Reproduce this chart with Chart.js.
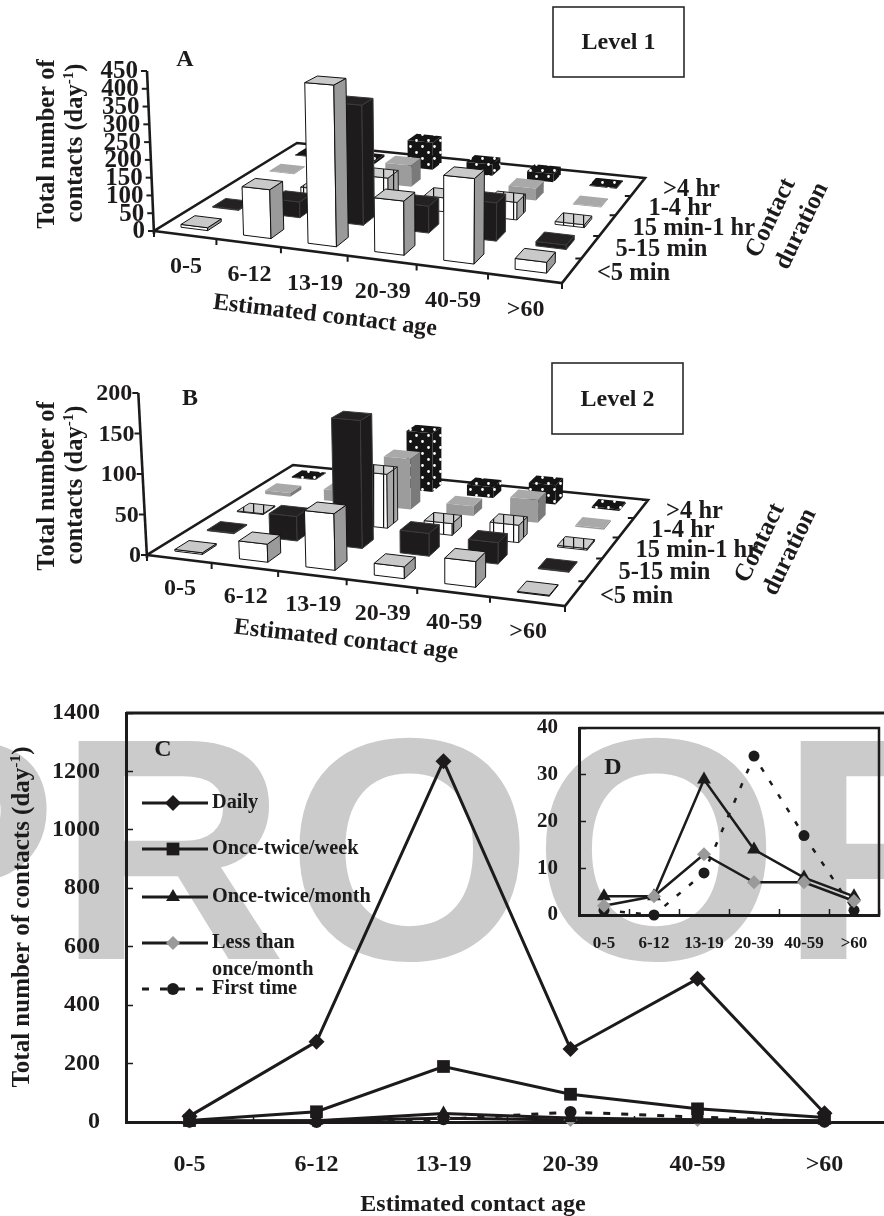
<!DOCTYPE html>
<html>
<head>
<meta charset="utf-8">
<title>Contacts</title>
<script src="https://cdn.jsdelivr.net/npm/chart.js@4"></script>
<style>
body{margin:0;background:#fff;}
#page{position:relative;width:884px;height:1216px;overflow:hidden;background:#fff;}
#page canvas{position:absolute;}
#proof{position:absolute;left:-154px;top:691px;font:bold 317px/1 "Liberation Sans";color:#cbcbcb;white-space:nowrap;}
</style>
</head>
<body>
<div id="page">
	<div id="proof">PROOF</div>
	<canvas id="canvasA" width="884" height="345" style="left:0px;top:0px"></canvas>
	<canvas id="canvasB" width="884" height="310" style="left:0px;top:355px"></canvas>
	<canvas id="canvasC" width="900" height="526" style="left:0px;top:690px"></canvas>
	<canvas id="canvasD" width="364" height="245" style="left:520px;top:715px"></canvas>
</div>
<script>
var ageLabels = ["0-5", "6-12", "13-19", "20-39", "40-59", ">60"];
var durationLabels = ["<5 min", "5-15 min", "15 min-1 hr", "1-4 hr", ">4 hr"];

// level 1, one array per contact duration
var levelOneUnder5 = [8, 135, 440, 145, 225, 28];
var levelOne5to15 = [2, 45, 340, 75, 105, 12];
var levelOne15to60 = [2, 25, 80, 40, 50, 8];
var levelOne1to4 = [2, 5, 65, 25, 35, 2];
var levelOneOver4 = [2, 8, 85, 35, 25, 2];

// level 2
var levelTwoUnder5 = [2, 22, 68, 14, 30, 1];
var levelTwo5to15 = [1, 31, 160, 28, 26, 1];
var levelTwo15to60 = [1, 4, 70, 15, 22, 2];
var levelTwo1to4 = [5, 15, 68, 13, 30, 2];
var levelTwoOver4 = [1, 2, 82, 15, 26, 2];

// frequency of contact
var daily = [20, 275, 1235, 250, 490, 30];
var onceWeek = [5, 35, 190, 95, 45, 15];
var onceMonth = [4, 4, 29, 14, 8, 4];
var lessMonth = [2, 4, 13, 7, 7, 3];
var firstTime = [1, 0, 9, 34, 17, 1];

var serif = '"Liberation Serif"';
var ink = "#1c1a1a";

function bold(size){
	return "bold " + size + "px " + serif;
}
/**
 * 写一段文字，可以旋转
 */
function putText(ctx, text, x, y, size, angle, align){
	ctx.save();
	ctx.translate(x, y);
	ctx.rotate((angle || 0) * Math.PI / 180);
	ctx.font = bold(size);
	ctx.fillStyle = ink;
	ctx.textAlign = align || "center";
	ctx.textBaseline = "middle";
	ctx.fillText(text, 0, 0);
	ctx.restore();
}
/**
 * 竖排标题 (day-1) with a superscript
 */
function putPerDay(ctx, head, x, y, size){
	ctx.save();
	ctx.translate(x, y);
	ctx.rotate(-Math.PI / 2);
	ctx.fillStyle = ink;
	ctx.textBaseline = "middle";
	ctx.textAlign = "left";
	ctx.font = bold(size);
	var w1 = ctx.measureText(head).width;
	var w3 = ctx.measureText(")").width;
	ctx.font = bold(size * 0.62);
	var w2 = ctx.measureText("-1").width;
	var start = -(w1 + w2 + w3) / 2;
	ctx.font = bold(size);
	ctx.fillText(head, start, 0);
	ctx.fillText(")", start + w1 + w2, 0);
	ctx.font = bold(size * 0.62);
	ctx.fillText("-1", start + w1, -size * 0.3);
	ctx.restore();
}
/**
 * 正方形到四边形的透视变换
 */
function makeFloor(q){
	var dx1 = q[1].x - q[2].x, dx2 = q[3].x - q[2].x, sx = q[0].x - q[1].x + q[2].x - q[3].x;
	var dy1 = q[1].y - q[2].y, dy2 = q[3].y - q[2].y, sy = q[0].y - q[1].y + q[2].y - q[3].y;
	var den = dx1 * dy2 - dx2 * dy1;
	var g = (sx * dy2 - dx2 * sy) / den;
	var h = (dx1 * sy - sx * dy1) / den;
	var a = q[1].x - q[0].x + g * q[1].x, b = q[3].x - q[0].x + h * q[3].x;
	var d = q[1].y - q[0].y + g * q[1].y, e = q[3].y - q[0].y + h * q[3].y;
	return function(fu, fv){
		var w = g * fu + h * fv + 1;
		return {x: (a * fu + b * fv + q[0].x) / w, y: (d * fu + e * fv + q[0].y) / w, w: w};
	};
}
function makeTile(ctx, back, paint, size){
	var tile = document.createElement("canvas");
	tile.width = size;
	tile.height = size;
	var t = tile.getContext("2d");
	t.fillStyle = back;
	t.fillRect(0, 0, size, size);
	paint(t);
	return ctx.createPattern(tile, "repeat");
}
function stripes(ctx, back){
	return makeTile(ctx, back, function(t){
		t.fillStyle = "#111";
		t.fillRect(3, 0, 1.2, 10);
	}, 10);
}
function dots(ctx){
	return makeTile(ctx, "#141414", function(t){
		t.fillStyle = "#fff";
		t.beginPath();
		t.arc(2.5, 2.5, 1.4, 0, 7);
		t.arc(8.5, 8.5, 1.4, 0, 7);
		t.fill();
	}, 12);
}
function face(ctx, pts, fill, line){
	ctx.beginPath();
	ctx.moveTo(pts[0].x, pts[0].y);
	for(var i = 1; i < pts.length; i++){
		ctx.lineTo(pts[i].x, pts[i].y);
	}
	ctx.closePath();
	ctx.fillStyle = fill;
	ctx.fill();
	if(line){
		ctx.lineWidth = 1;
		ctx.strokeStyle = line;
		ctx.stroke();
	}
}
/**
 * 画三维柱状图，柱子的位置来自 chart 的三个 scale
 */
function paint3d(id, set, rows){
	var series = [];
	for(var j = 0; j < rows.length; j++){
		var pts = [];
		for(var i = 0; i < rows[j].length; i++){
			pts.push({x: i + 0.5, y: rows[j][i], dur: j + 0.5});
		}
		series.push({data: pts, pointRadius: 0, showLine: false});
	}
	var canvas = document.getElementById(id);
	var q = set.corners;
	var plugin = {
		id: "bars3d",
		beforeDatasetsDraw: function(chart){
			var ctx = chart.ctx;
			var sx = chart.scales.x, sy = chart.scales.y, sd = chart.scales.dur;
			var floor = makeFloor(q);
			function ground(u, v){
				return floor((sx.getPixelForValue(u) - sx.left) / sx.width, (sd.getPixelForValue(v) - sd.left) / sd.width);
			}
			function rise(p, val){
				var h = (sy.bottom - sy.getPixelForValue(val)) / p.w;
				return {x: p.x + (p.x - set.vanishX) * h * set.lean, y: p.y - h};
			}
			// floor outline
			ctx.save();
			ctx.strokeStyle = ink;
			ctx.lineWidth = 2.6;
			ctx.lineJoin = "miter";
			ctx.beginPath();
			ctx.moveTo(q[0].x, q[0].y);
			ctx.lineTo(q[1].x, q[1].y);
			ctx.lineTo(q[2].x, q[2].y);
			ctx.lineTo(q[3].x, q[3].y);
			ctx.closePath();
			ctx.stroke();
			// axis ticks on the floor
			ctx.lineWidth = 2;
			ctx.beginPath();
			for(var u = 0; u <= 6; u++){
				var a = ground(u, 0);
				ctx.moveTo(a.x, a.y);
				ctx.lineTo(a.x, a.y + 6);
			}
			for(var v = 1; v <= 5; v++){
				var b = ground(6, v);
				ctx.moveTo(b.x, b.y);
				ctx.lineTo(b.x - 6, b.y);
			}
			ctx.stroke();
			// value axis leans a little
			var top = rise({x: q[0].x, y: q[0].y, w: 1}, sy.max);
			ctx.lineWidth = 2.6;
			ctx.beginPath();
			ctx.moveTo(q[0].x, q[0].y + 3);
			ctx.lineTo(top.x, top.y);
			ctx.stroke();
			ctx.lineWidth = 2;
			sy.ticks.forEach(function(t){
				var p = rise({x: q[0].x, y: q[0].y, w: 1}, t.value);
				ctx.beginPath();
				ctx.moveTo(p.x, p.y);
				ctx.lineTo(p.x - 6, p.y);
				ctx.stroke();
				putText(ctx, String(t.value), p.x - set.tickGap, p.y + 1, set.valueSize, 0, "right");
			});
			// 从后往前画
			var looks = [
				{front: "#fff", top: "#c9c9c9", side: "#9a9a9a", line: "#111"},
				{front: "#1d1b1b", top: "#232121", side: "#1d1b1b", line: "#3a3a3a"},
				{front: stripes(ctx, "#fff"), top: stripes(ctx, "#cfcfcf"), side: stripes(ctx, "#a8a8a8"), line: "#222"},
				{front: "#9c9c9c", top: "#a9a9a9", side: "#7a7a7a", line: null},
				{front: dots(ctx), top: dots(ctx), side: dots(ctx), line: null}
			];
			var half = set.barSize / 2;
			for(var d = chart.data.datasets.length - 1; d >= 0; d--){
				chart.data.datasets[d].data.forEach(function(pt){
					var look = looks[d];
					var p1 = ground(pt.x - half, pt.dur - half), p2 = ground(pt.x + half, pt.dur - half);
					var p3 = ground(pt.x + half, pt.dur + half), p4 = ground(pt.x - half, pt.dur + half);
					var t1 = rise(p1, pt.y), t2 = rise(p2, pt.y), t3 = rise(p3, pt.y), t4 = rise(p4, pt.y);
					face(ctx, [p1, p2, t2, t1], look.front, look.line);
					face(ctx, [p2, p3, t3, t2], look.side, look.line);
					face(ctx, [t1, t2, t3, t4], look.top, look.line);
				});
			}
			ctx.restore();
			// 文字
			ageLabels.forEach(function(label, i){
				var p = ground(i + 0.5, 0);
				putText(ctx, label, p.x + set.ageShift.x, p.y + set.ageShift.y, 24, 0);
			});
			durationLabels.forEach(function(label, i){
				var p = ground(6, i + 0.5);
				putText(ctx, label, p.x + set.durShift.x, p.y + set.durShift.y, 24.5, 0, "left");
			});
			putText(ctx, "Estimated contact age", set.ageTitle.x, set.ageTitle.y, 24, set.ageTitle.angle);
			putText(ctx, "Contact", set.contact.x, set.contact.y, 25, -64);
			putText(ctx, "duration", set.duration.x, set.duration.y, 25, -64);
			putText(ctx, "Total number of", 48, set.titleY, 24.5, -90);
			putPerDay(ctx, "contacts (day", 76, set.titleY - 1, 24.5);
			putText(ctx, set.letter.text, set.letter.x, set.letter.y, 24);
			// level box
			ctx.strokeStyle = "#2a2a2a";
			ctx.lineWidth = 1.6;
			ctx.strokeRect(set.box.x, set.box.y, set.box.w, set.box.h);
			putText(ctx, set.box.text, set.box.x + set.box.w / 2, set.box.y + set.box.h / 2 + 1, 24);
		}
	};
	new Chart(canvas.getContext("2d"), {
		type: "scatter",
		data: {datasets: series},
		plugins: [plugin],
		options: {
			responsive: false,
			animation: false,
			events: [],
			layout: {autoPadding: false, padding: {left: q[0].x, right: canvas.width - q[1].x, top: set.axisTop, bottom: canvas.height - q[0].y}},
			plugins: {legend: {display: false}, tooltip: {enabled: false}},
			scales: {
				x: {type: "linear", display: false, min: 0, max: 6},
				dur: {type: "linear", axis: "x", display: false, min: 0, max: 5},
				y: {type: "linear", display: false, min: 0, max: set.maxValue, ticks: {stepSize: set.step}}
			}
		}
	});
}
/**
 * 折线图的数据集
 */
function lineSet(label, values, shape, radius, size, order){
	var grey = label == "Less than";
	return {
		label: label,
		data: values,
		order: order,
		borderColor: ink,
		borderWidth: size,
		borderDash: label == "First time" ? (size < 3 ? [5, 11] : [7, 11]) : [],
		pointStyle: shape,
		pointRadius: radius,
		pointBorderWidth: 0,
		pointBackgroundColor: grey ? "#9a9a9a" : ink,
		tension: 0,
		fill: false,
		clip: false
	};
}
function axisOptions(size, yMax, yStep, leftW, bottomH, yPad, xPad){
	return {
		x: {
			offset: true,
			afterFit: function(s){
				s.height = bottomH;
				s.paddingLeft = 0;
				s.paddingRight = 0;
			},
			border: {color: ink, width: 3},
			grid: {offset: true, drawOnChartArea: false, tickLength: -6, tickWidth: 1.5, tickColor: ink},
			ticks: {color: ink, font: {family: serif, weight: "bold", size: size.x}, padding: xPad, maxRotation: 0, autoSkip: false}
		},
		y: {
			min: 0,
			max: yMax,
			afterFit: function(s){
				s.width = leftW;
				s.paddingTop = 0;
				s.paddingBottom = 0;
			},
			border: {color: ink, width: 3},
			grid: {drawOnChartArea: false, tickLength: -7, tickWidth: 1.5, tickColor: ink},
			ticks: {
				stepSize: yStep,
				color: ink,
				font: {family: serif, weight: "bold", size: size.y},
				padding: yPad,
				callback: function(value){ return String(value); }
			}
		}
	};
}
function frame(chart, ctx, width){
	var a = chart.chartArea;
	ctx.save();
	ctx.strokeStyle = ink;
	ctx.lineWidth = width;
	ctx.beginPath();
	ctx.moveTo(a.left, a.top);
	ctx.lineTo(a.right, a.top);
	ctx.lineTo(a.right, a.bottom);
	ctx.stroke();
	ctx.restore();
}
function paintLines(){
	var legendRows = [
		{label: "Daily", y: 113},
		{label: "Once-twice/week", y: 159},
		{label: "Once-twice/month", y: 207},
		{label: "Less than", y: 253},
		{label: "First time", y: 299}
	];
	var c = document.getElementById("canvasC").getContext("2d");
	new Chart(c, {
		type: "line",
		data: {
			labels: ageLabels,
			datasets: [
				lineSet("Daily", daily, "rectRot", 8, 3, 0),
				lineSet("Once-twice/week", onceWeek, "rect", 9, 3, 1),
				lineSet("Once-twice/month", onceMonth, "triangle", 8, 3, 2),
				lineSet("Less than", lessMonth, "rectRot", 7, 3, 4),
				lineSet("First time", firstTime, "circle", 6, 3, 3)
			]
		},
		plugins: [{
			id: "panelC",
			afterDatasetsDraw: function(chart){
				var ctx = chart.ctx;
				frame(chart, ctx, 3);
				putText(ctx, "C", 163, 60, 24);
				legendRows.forEach(function(row, i){
					var ds = chart.data.datasets[i];
					ctx.save();
					ctx.strokeStyle = ink;
					ctx.lineWidth = 3;
					ctx.setLineDash(ds.borderDash);
					ctx.beginPath();
					ctx.moveTo(142, row.y);
					ctx.lineTo(208, row.y);
					ctx.stroke();
					ctx.setLineDash([]);
					ctx.fillStyle = ds.pointBackgroundColor;
					Chart.helpers.drawPoint(ctx, {pointStyle: ds.pointStyle, radius: ds.pointRadius, borderWidth: 0}, 173, row.y);
					ctx.restore();
					putText(ctx, row.label, 212, row.y, 20.3, 0, "left");
				});
				putText(ctx, "once/month", 212, 280, 20.3, 0, "left");
				putText(ctx, "Estimated contact age", 473, 515, 24);
				putPerDay(ctx, "Total number of contacts (day", 23, 227, 25);
			}
		}],
		options: {
			responsive: false,
			animation: false,
			events: [],
			layout: {autoPadding: false, padding: {right: 12, top: 23}},
			plugins: {legend: {display: false}, tooltip: {enabled: false}},
			scales: axisOptions({x: 24, y: 24}, 1400, 200, 126, 94, 33, 34)
		}
	});
	var d = document.getElementById("canvasD").getContext("2d");
	new Chart(d, {
		type: "line",
		data: {
			labels: ageLabels,
			datasets: [
				lineSet("Less than", lessMonth, "rectRot", 7, 2.5, 0),
				lineSet("Once-twice/month", onceMonth, "triangle", 8, 2.5, 1),
				lineSet("First time", firstTime, "circle", 5.5, 2.5, 2)
			]
		},
		plugins: [{
			id: "panelD",
			afterDatasetsDraw: function(chart){
				frame(chart, chart.ctx, 2.5);
				putText(chart.ctx, "D", 93, 53, 24);
			}
		}],
		options: {
			responsive: false,
			animation: false,
			events: [],
			layout: {autoPadding: false, padding: {right: 5, top: 13}},
			plugins: {legend: {display: false}, tooltip: {enabled: false}},
			scales: axisOptions({x: 17, y: 21}, 40, 10, 59, 45, 28, 24)
		}
	});
}

paint3d("canvasA", {
	corners: [{x: 154, y: 231}, {x: 562, y: 283}, {x: 645, y: 178}, {x: 297, y: 143}],
	axisTop: 71, maxValue: 450, step: 50, barSize: 0.43, vanishX: 445, lean: 0.00015, valueSize: 25, tickGap: 9,
	ageShift: {x: 1, y: 32}, durShift: {x: 25, y: 3},
	ageTitle: {x: 325, y: 316, angle: 6.8},
	contact: {x: 771, y: 218}, duration: {x: 802, y: 226},
	titleY: 144, letter: {text: "A", x: 185, y: 60},
	box: {x: 553, y: 7, w: 131, h: 70, text: "Level 1"}
}, [levelOneUnder5, levelOne5to15, levelOne15to60, levelOne1to4, levelOneOver4]);

paint3d("canvasB", {
	corners: [{x: 147, y: 200}, {x: 565, y: 251}, {x: 648, y: 145}, {x: 293, y: 110}],
	axisTop: 38, maxValue: 200, step: 50, barSize: 0.43, vanishX: 445, lean: 0.00018, valueSize: 24, tickGap: 6,
	ageShift: {x: 1, y: 30}, durShift: {x: 25, y: 3},
	ageTitle: {x: 346, y: 285, angle: 6.4},
	contact: {x: 760, y: 188}, duration: {x: 790, y: 197},
	titleY: 131, letter: {text: "B", x: 190, y: 44},
	box: {x: 552, y: 8, w: 131, h: 71, text: "Level 2"}
}, [levelTwoUnder5, levelTwo5to15, levelTwo15to60, levelTwo1to4, levelTwoOver4]);

paintLines();
</script>
</body>
</html>
